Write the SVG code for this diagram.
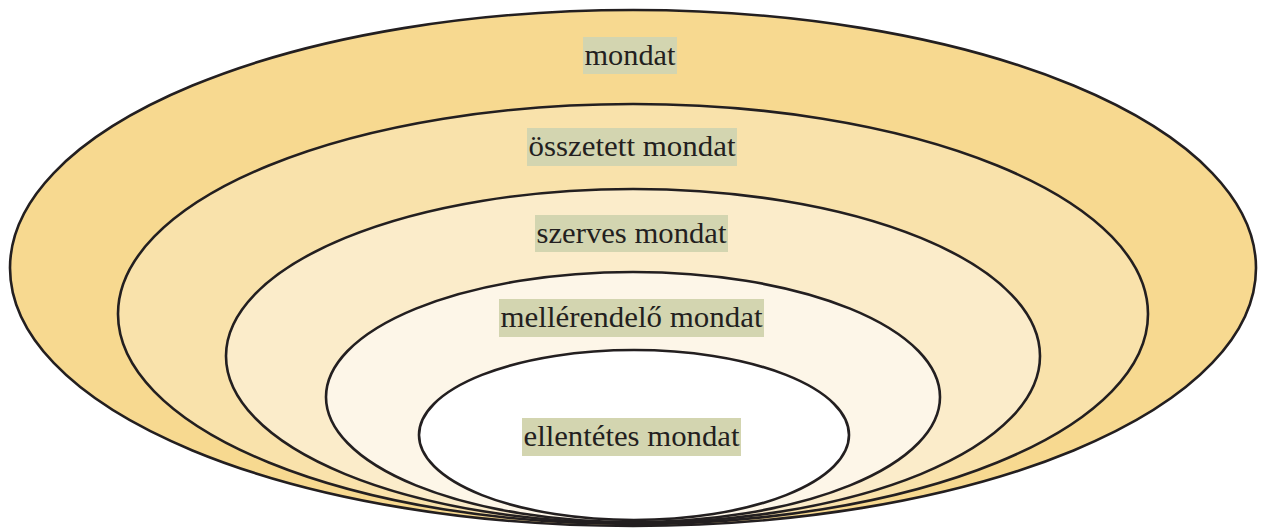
<svg xmlns="http://www.w3.org/2000/svg" width="1263" height="529" viewBox="0 0 1263 529">
<style>
.e{stroke:#231f20;stroke-width:2.6}
.lb{fill:#d3d5b0}
.t{font-family:"Liberation Serif","DejaVu Serif",serif;font-size:29px;fill:#231f20;text-anchor:middle}
</style>
<rect width="1263" height="529" fill="#ffffff"/>
<g id="n1"><ellipse class="e" cx="633" cy="268" rx="623" ry="258" fill="#f7d990"/></g>
<g id="n2"><ellipse class="e" cx="633" cy="314" rx="515" ry="210" fill="#f9e2ab"/></g>
<g id="n3"><ellipse class="e" cx="633" cy="356" rx="407" ry="167" fill="#fbecca"/></g>
<g id="n4"><ellipse class="e" cx="633" cy="397" rx="307" ry="125" fill="#fdf6e8"/></g>
<g id="n5"><ellipse class="e" cx="634" cy="435" rx="215" ry="85" fill="#ffffff"/></g>
<g id="labels">
<g id="l1"><rect class="lb" x="583" y="37" width="94" height="37"/><text class="t" x="630" y="65" textLength="91" lengthAdjust="spacingAndGlyphs">mondat</text></g>
<g id="l2"><rect class="lb" x="527" y="128" width="210" height="38"/><text class="t" x="632" y="156" textLength="207" lengthAdjust="spacingAndGlyphs">összetett mondat</text></g>
<g id="l3"><rect class="lb" x="535" y="215" width="193" height="37"/><text class="t" x="631.5" y="243" textLength="190" lengthAdjust="spacingAndGlyphs">szerves mondat</text></g>
<g id="l4"><rect class="lb" x="499" y="299" width="265" height="38"/><text class="t" x="631.5" y="327" textLength="262" lengthAdjust="spacingAndGlyphs">mellérendelő mondat</text></g>
<g id="l5"><rect class="lb" x="522" y="418" width="219" height="38"/><text class="t" x="631.5" y="446" textLength="216" lengthAdjust="spacingAndGlyphs">ellentétes mondat</text></g>
</g>
<g id="connectors"></g>
</svg>
